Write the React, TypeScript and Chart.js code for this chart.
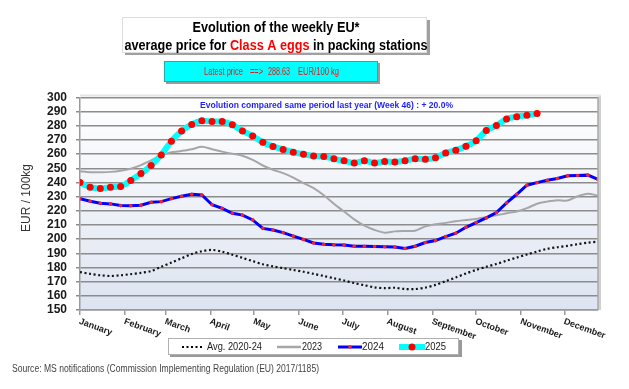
import React, { useEffect, useRef } from 'react';
import { Chart, registerables } from 'chart.js';

Chart.register(...registerables);

// ---- data ----
const weeks: number[] = Array.from({ length: 52 }, (_, i) => i + 1);
const monthNames = ['January', 'February', 'March', 'April', 'May', 'June', 'July', 'August', 'September', 'October', 'November', 'December'];
const monthStartDay = [1, 32, 60, 91, 121, 152, 182, 213, 244, 274, 305, 335];
const yTicks = { min: 150, max: 300, step: 10 };

const avg2020_24 = [176.8, 175.5, 174.5, 174, 174.5, 175.3, 176.2, 177.5, 180.5, 183.5, 186.5, 189.5, 191.5, 192.4, 191.2, 189, 186.8, 184.5, 182.3, 180.8, 179.5, 178.3, 177, 175.5, 174, 172.4, 170.8, 169, 167.5, 166, 165.4, 165.7, 164.8, 164.8, 165.8, 167.7, 170.3, 173, 175.8, 178.3, 180.5, 182.5, 184.8, 187, 189.2, 191.3, 193.2, 194.3, 195.3, 196.5, 197.5, 198.3];
const y2023 = [248, 247.3, 247.3, 247.5, 248.3, 249.8, 252.3, 255.6, 259.3, 261.3, 262.3, 263.5, 265.2, 263.5, 261.8, 260.3, 258.9, 256, 252, 249, 246.6, 243.5, 239.5, 236, 231, 225, 219.5, 214, 209.5, 206.5, 204.6, 205.5, 205.8, 206, 209, 210.5, 211.5, 212.7, 213.5, 214.3, 215.5, 216.8, 218.3, 219.5, 221.9, 225, 226.5, 227.5, 227.3, 230.3, 232, 230.8];
const y2024 = [228.6, 226.8, 225.3, 224.9, 223.7, 223.6, 224, 226.1, 226.5, 228.6, 230.3, 231.7, 231.2, 224.3, 221.8, 218.3, 217, 213.6, 207.6, 206.5, 204.6, 202.2, 199.8, 197.3, 196.4, 196, 195.8, 195, 195, 194.8, 194.6, 194.4, 193.4, 195, 197.6, 199, 201.8, 204.2, 208.4, 211.7, 215, 218.8, 225.6, 231.7, 238.1, 239.9, 241.6, 242.8, 244.7, 244.9, 245.2, 242.2];
const y2025 = [240, 236.7, 235.8, 236.7, 237.2, 241.5, 246.3, 252, 259.5, 269.2, 276.3, 281, 283.6, 283, 283, 280.7, 276.4, 272.8, 268.4, 265.5, 263.3, 261.4, 260, 258.7, 258.3, 256.7, 255.3, 253.8, 255.3, 253.8, 254.8, 254.5, 255.3, 256.7, 256.4, 257.4, 260.9, 262.8, 265.6, 269.4, 276.7, 280.2, 284.9, 286.5, 287.5, 288.63];

const seriesNames = ['Avg. 2020-24', '2023', '2024', '2025'];
const latestPrice = '288.63';
const latestWeek = 46;
const yoyChange = '+ 20.0%';

const FONT = "'Liberation Sans', Arial, sans-serif";

const toPoints = (arr: number[]) => arr.map((v, i) => ({ x: weeks[i], y: v }));

function fitText(ctx: CanvasRenderingContext2D, text: string, x: number, y: number, width: number) {
  const w = ctx.measureText(text).width;
  const s = width / w;
  ctx.save();
  ctx.translate(x, y);
  ctx.scale(s, 1);
  ctx.textAlign = 'left';
  ctx.fillText(text, 0, 0);
  ctx.restore();
}

function fitSegments(ctx: CanvasRenderingContext2D, segs: [string, string][], cx: number, y: number, width: number) {
  const total = segs.reduce((a, s) => a + ctx.measureText(s[0]).width, 0);
  const s = width / total;
  ctx.save();
  ctx.translate(cx - width / 2, y);
  ctx.scale(s, 1);
  ctx.textAlign = 'left';
  let x = 0;
  for (const [t, c] of segs) {
    ctx.fillStyle = c;
    ctx.fillText(t, x, 0);
    x += ctx.measureText(t).width;
  }
  ctx.restore();
}

const bgPlugin = {
  id: 'bgPlugin',
  beforeDraw(chart: any) {
    const { ctx, chartArea: a } = chart;
    ctx.save();
    ctx.fillStyle = '#ffffff';
    ctx.fillRect(0, 0, chart.width, chart.height);
    ctx.fillStyle = '#d0d0d0';
    ctx.fillRect(a.right, a.top - 2, 3, a.bottom - a.top + 2);
    ctx.fillStyle = '#e4e4e4';
    ctx.fillRect(a.left, a.top - 3, a.right - a.left + 3, 2);
    const g = ctx.createLinearGradient(0, a.top, 0, a.bottom);
    g.addColorStop(0, '#ffffff');
    g.addColorStop(1, '#dde4f1');
    ctx.fillStyle = g;
    ctx.fillRect(a.left, a.top, a.right - a.left, a.bottom - a.top);
    ctx.restore();
  },
};

const decoPlugin = {
  id: 'decoPlugin',
  afterDraw(chart: any) {
    const { ctx, chartArea: a } = chart;
    const xs = chart.scales.x;
    ctx.save();
    ctx.strokeStyle = '#a8a8a8';
    ctx.lineWidth = 1.5;
    ctx.beginPath();
    ctx.moveTo(a.right, a.top);
    ctx.lineTo(a.right, a.bottom);
    ctx.stroke();

    // month labels (rotated)
    ctx.fillStyle = '#1a1a1a';
    ctx.font = `bold 9px ${FONT}`;
    ctx.textBaseline = 'top';
    ctx.textAlign = 'left';
    monthNames.forEach((m, i) => {
      const w = 1 + (monthStartDay[i] - 1) / 7;
      const px = xs.getPixelForValue(w);
      ctx.save();
      ctx.translate(px + 1, a.bottom + 7);
      ctx.rotate((20 * Math.PI) / 180);
      ctx.fillText(m, 0, 0);
      ctx.restore();
    });

    // y axis title
    ctx.save();
    ctx.translate(27, 198);
    ctx.rotate(-Math.PI / 2);
    ctx.fillStyle = '#333333';
    ctx.font = `12px ${FONT}`;
    ctx.textAlign = 'center';
    ctx.textBaseline = 'middle';
    ctx.fillText('EUR / 100kg', 0, 0);
    ctx.restore();

    // title box
    ctx.fillStyle = '#a0a0a0';
    ctx.fillRect(125, 20, 305, 35);
    ctx.fillStyle = '#ffffff';
    ctx.fillRect(122, 17, 305, 36);
    ctx.strokeStyle = '#dedede';
    ctx.lineWidth = 1;
    ctx.strokeRect(122.5, 17.5, 304, 35);
    ctx.font = `bold 15px ${FONT}`;
    ctx.textBaseline = 'middle';
    fitSegments(ctx, [['Evolution of the weekly EU*', '#000000']], 276, 28, 167);
    fitSegments(ctx, [['average price for ', '#000000'], ['Class A eggs', '#ff0000'], [' in packing stations', '#000000']], 276, 46, 303);

    // cyan box
    ctx.fillStyle = '#9a9a9a';
    ctx.fillRect(166, 63, 214, 21);
    ctx.fillStyle = '#00ffff';
    ctx.fillRect(164, 61, 214, 21);
    ctx.strokeStyle = '#2aa7a7';
    ctx.strokeRect(164.5, 61.5, 213, 20);
    ctx.fillStyle = '#f01010';
    ctx.font = `11px ${FONT}`;
    fitText(ctx, 'Latest price', 204, 72, 39);
    fitText(ctx, '==>', 250, 72, 13);
    fitText(ctx, latestPrice, 268, 72, 22);
    fitText(ctx, 'EUR/100 kg', 298, 72, 41);

    // annotation
    ctx.fillStyle = '#1f1fff';
    ctx.font = `bold 9px ${FONT}`;
    fitText(ctx, `Evolution compared same period last year (Week ${latestWeek}) : ${yoyChange}`, 200, 105.5, 253);

    // legend box
    ctx.fillStyle = '#9a9a9a';
    ctx.fillRect(170, 340, 292, 17);
    ctx.fillStyle = '#ffffff';
    ctx.fillRect(168, 338, 291, 17);
    ctx.strokeStyle = '#b0b0b0';
    ctx.strokeRect(168.5, 338.5, 290, 16);
    const ly = 347;
    ctx.strokeStyle = '#000';
    ctx.lineWidth = 2.2;
    ctx.setLineDash([2, 2.5]);
    ctx.beginPath(); ctx.moveTo(182, ly); ctx.lineTo(204, ly); ctx.stroke();
    ctx.setLineDash([]);
    ctx.strokeStyle = '#a6a6a6';
    ctx.lineWidth = 2.5;
    ctx.beginPath(); ctx.moveTo(277, ly); ctx.lineTo(301, ly); ctx.stroke();
    ctx.strokeStyle = '#0000ff';
    ctx.lineWidth = 3;
    ctx.beginPath(); ctx.moveTo(338, ly); ctx.lineTo(362, ly); ctx.stroke();
    ctx.fillStyle = '#ff2020';
    ctx.beginPath(); ctx.arc(350, ly, 1.8, 0, Math.PI * 2); ctx.fill();
    ctx.strokeStyle = '#00ffff';
    ctx.lineWidth = 6;
    ctx.beginPath(); ctx.moveTo(399, ly); ctx.lineTo(425, ly); ctx.stroke();
    ctx.fillStyle = '#ff0000';
    ctx.beginPath(); ctx.arc(412, ly, 3.5, 0, Math.PI * 2); ctx.fill();
    ctx.fillStyle = '#1a1a1a';
    ctx.font = `10.5px ${FONT}`;
    ctx.textAlign = 'left';
    ctx.textBaseline = 'middle';
    fitText(ctx, seriesNames[0], 207, ly, 55);
    fitText(ctx, seriesNames[1], 302, ly, 20);
    fitText(ctx, seriesNames[2], 362, ly, 22);
    fitText(ctx, seriesNames[3], 425, ly, 21);

    // source
    ctx.fillStyle = '#444444';
    ctx.font = `10px ${FONT}`;
    fitText(ctx, 'Source: MS notifications (Commission Implementing Regulation (EU) 2017/1185)', 12, 369.5, 307);
    ctx.restore();
  },
};

export default function App() {
  const ref = useRef<HTMLCanvasElement | null>(null);
  useEffect(() => {
    if (!ref.current) return;
    const chart = new Chart(ref.current, {
      type: 'line',
      data: {
        datasets: [
          {
            label: seriesNames[3],
            data: toPoints(y2025),
            borderColor: '#00ffff',
            borderWidth: 6,
            tension: 0.3,
            pointRadius: 3.5,
            pointBackgroundColor: '#ff0000',
            pointBorderWidth: 0,
            order: 0,
          },
          {
            label: seriesNames[2],
            data: toPoints(y2024),
            borderColor: '#0000ff',
            borderWidth: 3,
            tension: 0,
            pointRadius: 1.8,
            pointBackgroundColor: '#ff2020',
            pointBorderWidth: 0,
            order: 1,
          },
          {
            label: seriesNames[1],
            data: toPoints(y2023),
            borderColor: '#a6a6a6',
            borderWidth: 2,
            tension: 0.3,
            pointRadius: 0,
            order: 2,
          },
          {
            label: seriesNames[0],
            data: toPoints(avg2020_24),
            borderColor: '#111111',
            borderWidth: 2.2,
            borderDash: [2, 2.6],
            tension: 0.3,
            pointRadius: 0,
            order: 3,
          },
        ],
      },
      options: {
        responsive: false,
        animation: false,
        events: [],
        layout: { padding: { top: 97.5, right: 31, left: 0, bottom: 0 } },
        plugins: { legend: { display: false }, tooltip: { enabled: false }, title: { display: false } },
        scales: {
          x: {
            type: 'linear',
            min: 1,
            max: 52,
            afterFit: (s: any) => { s.height = 79; },
            afterBuildTicks: (s: any) => {
              s.ticks = monthStartDay.map((d) => ({ value: 1 + (d - 1) / 7 }));
            },
            ticks: { display: false },
            grid: { drawOnChartArea: false, drawTicks: true, tickLength: 5, color: '#9a9a9a', lineWidth: 1.5 },
            border: { display: true, color: '#9a9a9a', width: 1.5 },
          },
          y: {
            min: yTicks.min,
            max: yTicks.max,
            afterFit: (s: any) => { s.width = 80; },
            ticks: {
              stepSize: yTicks.step,
              autoSkip: false,
              padding: 9,
              color: '#1a1a1a',
              font: { family: FONT, size: 12, weight: 'bold' },
            },
            grid: { color: '#8c8c8c', lineWidth: 1.5, tickLength: 4 },
            border: { display: true, color: '#9a9a9a', width: 1.5 },
          },
        },
      },
      plugins: [bgPlugin, decoPlugin],
    });
    return () => chart.destroy();
  }, []);
  return (
    <div style={{ position: 'fixed', left: 0, top: 0, width: 629, height: 389, background: '#fff' }}>
      <canvas ref={ref} width={629} height={389} style={{ width: 629, height: 389, display: 'block' }} />
    </div>
  );
}
